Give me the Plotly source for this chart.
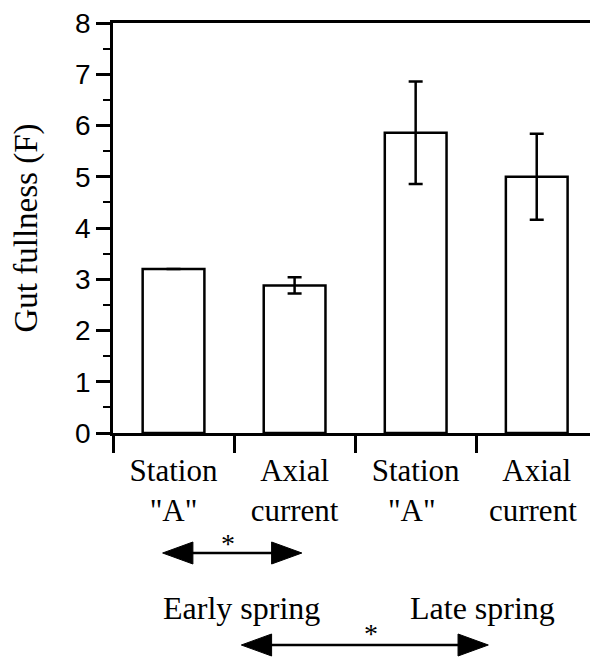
import plotly.graph_objects as go

# Gut fullness by site and season
categories = ['Station<br>"A"', "Axial<br>current", 'Station<br>"A" ', "Axial<br>current "]
fullness = [3.2, 2.88, 5.86, 5.0]
fullness_err = [0.0, 0.16, 1.0, 0.84]
y_ticks = [0, 1, 2, 3, 4, 5, 6, 7, 8]

W, H = 590, 658
L, R, T, B = 113, 0, 23, 225
plot_h = H - T - B


def py(pix):
    """Pixel row on the page -> paper y coordinate."""
    return (H - B - pix) / plot_h


serif = "Liberation Serif, Times New Roman, serif"
sans = "Liberation Sans, Arial, sans-serif"

fig = go.Figure(
    go.Bar(
        x=categories,
        y=fullness,
        marker=dict(color="white", line=dict(color="black", width=2.5)),
        error_y=dict(type="data", array=fullness_err, visible=True,
                     color="black", thickness=2.5, width=7),
        width=0.51,
    )
)

fig.update_xaxes(
    type="category",
    range=[-0.5, 3.44],
    showline=True, linecolor="black", linewidth=2.5, mirror=True,
    ticks="outside", tickson="boundaries", ticklen=17, tickwidth=2.5,
    tickcolor="black", ticklabelstandoff=8,
    tickfont=dict(family=serif, size=31, color="black"),
    showgrid=False, zeroline=False,
)
fig.update_yaxes(
    range=[0, 8],
    tickvals=y_ticks,
    showline=True, linecolor="black", linewidth=2.5,
    ticks="outside", ticklen=14, tickwidth=2.5, tickcolor="black",
    minor=dict(dtick=0.5, ticks="outside", ticklen=7, tickwidth=2, tickcolor="black"),
    tickfont=dict(family=sans, size=28, color="black"),
    title=dict(text="Gut fullness (F)", font=dict(family=serif, size=33, color="black"),
               standoff=28),
    showgrid=False, zeroline=False,
)

# Significance arrows below the axis
arrows = [
    dict(x0=-0.09, x1=1.06, y=553, star_x=0.45, star_y=543),
    dict(x0=0.56, x1=2.6, y=645, star_x=1.63, star_y=633),
]
shapes = []
annotations = []
head_len = 0.25  # in category units (~30 px)
for a in arrows:
    yc = py(a["y"])
    hh = 11 / plot_h
    shapes.append(dict(type="line", xref="x", yref="paper",
                       x0=a["x0"] + head_len * 0.8, x1=a["x1"] - head_len * 0.8,
                       y0=yc, y1=yc, line=dict(color="black", width=2.5)))
    # left head
    shapes.append(dict(type="path", xref="x", yref="paper",
                       path=f"M {a['x0']},{yc} L {a['x0'] + head_len},{yc + hh} "
                            f"L {a['x0'] + head_len},{yc - hh} Z",
                       fillcolor="black", line=dict(color="black", width=1)))
    # right head
    shapes.append(dict(type="path", xref="x", yref="paper",
                       path=f"M {a['x1']},{yc} L {a['x1'] - head_len},{yc + hh} "
                            f"L {a['x1'] - head_len},{yc - hh} Z",
                       fillcolor="black", line=dict(color="black", width=1)))
    annotations.append(dict(text="*", xref="x", yref="paper", x=a["star_x"],
                            y=py(a["star_y"]), showarrow=False,
                            font=dict(family=serif, size=28, color="black"),
                            xanchor="center", yanchor="middle"))

annotations.append(dict(text="Early spring", xref="x", yref="paper", x=0.56, y=py(608),
                        showarrow=False, font=dict(family=serif, size=32, color="black"),
                        xanchor="center", yanchor="middle"))
annotations.append(dict(text="Late spring", xref="x", yref="paper", x=2.55, y=py(608),
                        showarrow=False, font=dict(family=serif, size=32, color="black"),
                        xanchor="center", yanchor="middle"))

fig.update_layout(
    width=W, height=H,
    margin=dict(l=L, r=R, t=T, b=B, autoexpand=False),
    plot_bgcolor="white", paper_bgcolor="white",
    showlegend=False,
    shapes=shapes,
    annotations=annotations,
)

fig.write_html("out.html")
